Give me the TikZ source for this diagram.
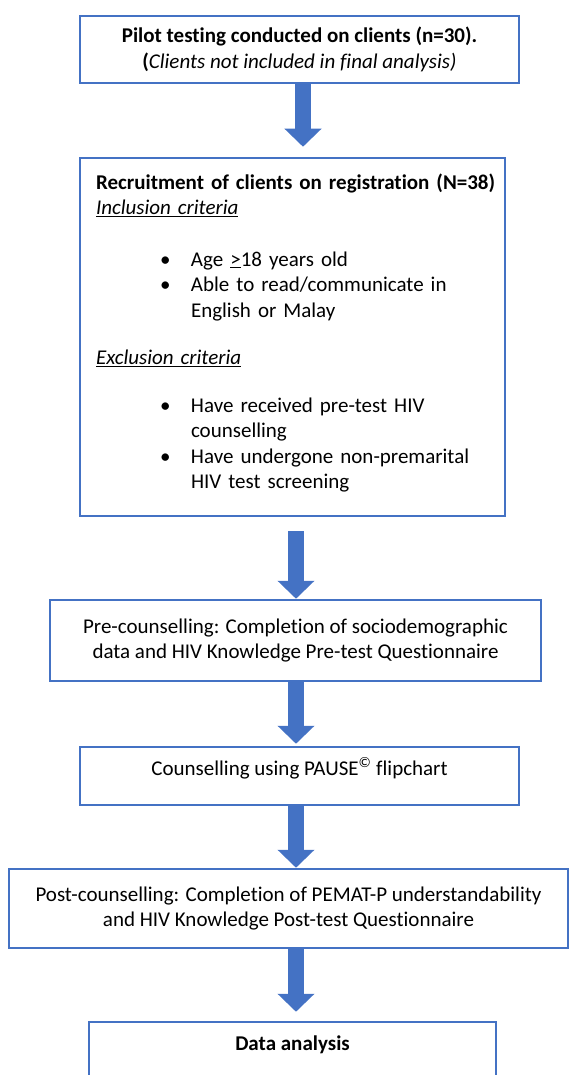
\documentclass[tikz,border=0pt]{standalone}
\usepackage{fontspec}
\setmainfont{Carlito}[Ligatures=NoCommon]
\usetikzlibrary{arrows.meta}
\definecolor{boxblue}{HTML}{4472C4}

\begin{document}
\begin{tikzpicture}[x=1pt,y=-1pt,
  box/.style={draw=boxblue,line width=2.5pt,align=center,inner sep=0pt,
    font=\fontsize{21}{25.5}\selectfont},
  blockarrow/.style={boxblue,line width=16pt,-{Triangle[width=36pt,length=18pt]}}]
\useasboundingbox (0,0) rectangle (570,1075);
% boxes
\node[box,minimum width=439pt,minimum height=67pt] (pilot) at (299.5,49.5)
  {\textbf{Pilot testing conducted on clients (n=30).}\\
   \textbf{(}\textit{Clients not included in final analysis)}};
\node[box,align=left,text width=393pt,inner xsep=16pt,minimum height=358pt] (recruit) at (292.5,337)
  {\makebox[393pt][l]{\textbf{Recruitment of clients on registration (N=38)}}\\
   \underline{\textit{Inclusion criteria}}\\[26pt]
   \hspace*{64pt}\makebox[31pt][l]{\textbullet}Age \underline{>}18 years old\\
   \hspace*{64pt}\makebox[31pt][l]{\textbullet}Able to read/communicate in\\
   \hspace*{95pt}English or Malay\\[22pt]
   \underline{\textit{Exclusion criteria}}\\[22pt]
   \hspace*{64pt}\makebox[31pt][l]{\textbullet}Have received pre-test HIV\\
   \hspace*{95pt}counselling\\
   \hspace*{64pt}\makebox[31pt][l]{\textbullet}Have undergone non-premarital\\
   \hspace*{95pt}HIV test screening\rule[-12pt]{0pt}{12pt}};
\node[box,minimum width=491pt,minimum height=81pt] (precoun) at (295.5,640.5)
  {Pre-counselling: Completion of sociodemographic\\
   data and HIV Knowledge Pre-test Questionnaire};
\node[box,minimum width=439pt,text height=28pt,text depth=30pt] (counsel) at (299.5,776)
  {Counselling using PAUSE\textsuperscript{\textcopyright} flipchart};
\node[box,minimum width=559pt,minimum height=79pt] (postcoun) at (288.5,908.5)
  {Post-counselling: Completion of PEMAT-P understandability\\
   and HIV Knowledge Post-test Questionnaire};
\node[box,minimum width=407pt,text height=28pt,text depth=35pt] (analysis) at (292.5,1053.5)
  {\textbf{Data analysis}};
% arrows
\coordinate (ax) at (296,0);
\coordinate (axtop) at (303,0);
\draw[blockarrow,shorten >=10pt] (pilot.south -| axtop) -- (recruit.north -| axtop);
\draw[blockarrow,shorten <=14pt] (recruit.south -| ax) -- (precoun.north -| ax);
\draw[blockarrow,shorten >=2pt] (precoun.south -| ax) -- (counsel.north -| ax);
\draw[blockarrow] (counsel.south -| ax) -- (postcoun.north -| ax);
\draw[blockarrow,shorten >=9pt] (postcoun.south -| ax) -- (analysis.north -| ax);
\end{tikzpicture}
\end{document}
